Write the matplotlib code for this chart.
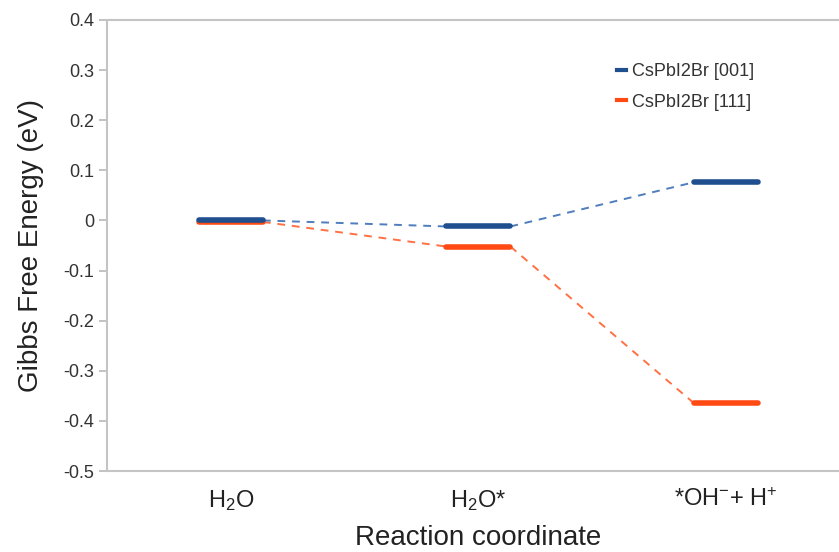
import matplotlib
matplotlib.use('Agg')
import matplotlib.pyplot as plt
from matplotlib.lines import Line2D

plt.rcParams['font.family'] = ['Liberation Sans', 'DejaVu Sans']
plt.rcParams['mathtext.fontset'] = 'custom'
plt.rcParams['mathtext.rm'] = 'Liberation Sans'
plt.rcParams['mathtext.it'] = 'Liberation Sans:italic'

# reaction steps and free energies (eV)
steps = ['H$_2$O', 'H$_2$O*', '*OH$^{-}$+ H$^{+}$']
energy_001 = [0.0, -0.012, 0.076]
energy_111 = [-0.003, -0.052, -0.364]
series_names = ['CsPbI2Br [001]', 'CsPbI2Br [111]']

level_colors = ['#1f4f8f', '#ff4a14']
link_colors = ['#4f7dbd', '#ff7043']
yticks = [-0.5, -0.4, -0.3, -0.2, -0.1, 0.0, 0.1, 0.2, 0.3, 0.4]

fig = plt.figure(figsize=(8.39, 5.52), dpi=100)
ax = fig.add_axes([0.1275, 0.1467, 0.885, 0.8171])

hw = 0.13
xs = list(range(len(steps)))

# draw the 111 series first so the 001 levels sit on top
for vals, lc, dc in [(energy_111, level_colors[1], link_colors[1]),
                     (energy_001, level_colors[0], link_colors[0])]:
    for i in range(len(vals) - 1):
        ax.plot([xs[i] + hw, xs[i + 1] - hw], [vals[i], vals[i + 1]],
                color=dc, lw=1.4, ls=(0, (4, 3.5)), zorder=2)
    ax.hlines(vals, [x - hw for x in xs], [x + hw for x in xs],
              color=lc, lw=4, capstyle='round', zorder=3)

ax.set_xlim(-0.5, 2.5)
ax.set_ylim(-0.5, 0.4)
ax.set_xticks(xs)
ax.set_xticklabels(steps, fontsize=17, color='#222222')
ax.tick_params(axis='x', length=0, pad=12)
ax.set_yticks(yticks)
ax.set_yticklabels(['0' if v == 0 else f'{v:.1f}' for v in yticks],
                   fontsize=13, color='#333333')
ax.tick_params(axis='y', length=6, width=1.2, color='#b8b8b8', pad=3)

for side in ['left', 'top', 'bottom']:
    ax.spines[side].set_color('#c4c4c4')
    ax.spines[side].set_linewidth(1.5)
ax.spines['right'].set_visible(False)

ax.set_xlabel('Reaction coordinate', fontsize=20, color='#222222', labelpad=9)
ax.set_ylabel('Gibbs Free Energy (eV)', fontsize=20, color='#222222', labelpad=14)

handles = [Line2D([0], [0], color=c, lw=3) for c in level_colors]
ax.legend(handles, series_names, loc='upper left', frameon=False,
          bbox_to_anchor=(0.716, 0.915), bbox_transform=fig.transFigure,
          fontsize=13, handlelength=0.5, handletextpad=0.35, labelspacing=0.75,
          labelcolor='#333333')

fig.savefig('out.png', dpi=100)
